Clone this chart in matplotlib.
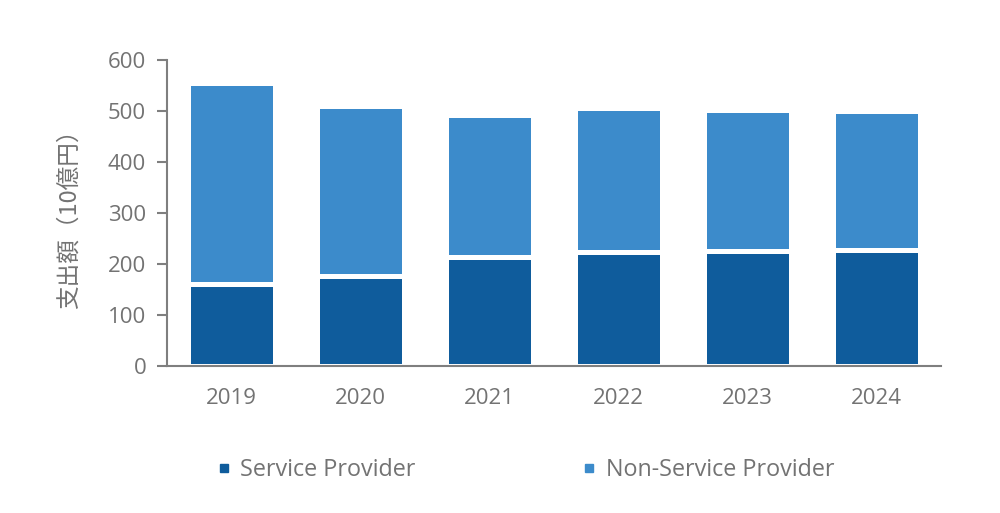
import numpy as np
import matplotlib.pyplot as plt
from matplotlib.lines import Line2D

# ===== データ =====
years = ["2019", "2020", "2021", "2022", "2023", "2024"]
service_provider = [160, 176, 213, 224, 225, 227]
non_service_provider = [395, 334, 279, 282, 277, 273]
y_ticks = [0, 100, 200, 300, 400, 500, 600]

DARK = "#0F5C9C"
LIGHT = "#3C8BCB"
TEXT = "#737373"
AXIS = "#7F7F7F"

plt.rcParams['font.family'] = ['Open Sans', 'Noto Sans CJK JP', 'DejaVu Sans']

fig = plt.figure(figsize=(10, 5.13), dpi=100)
ax = fig.add_axes([0.167, 0.2865, 0.774, 0.5965])

x = np.arange(len(years))
ax.bar(x, service_provider, width=0.67, color=DARK,
       edgecolor="white", linewidth=3.6, label="Service Provider")
ax.bar(x, non_service_provider, width=0.67, bottom=service_provider,
       color=LIGHT, edgecolor="white", linewidth=3.6, label="Non-Service Provider")

ax.set_xlim(-0.5, len(years) - 0.5)
ax.set_ylim(0, 600)
ax.set_yticks(y_ticks)
ax.set_xticks(x)
ax.set_xticklabels(years)

for s in ["top", "right"]:
    ax.spines[s].set_visible(False)
for s in ["left", "bottom"]:
    ax.spines[s].set_color(AXIS)
    ax.spines[s].set_linewidth(1.5)

ax.tick_params(axis="y", length=7, width=1.5, color=AXIS, pad=8,
               labelsize=16, labelcolor=TEXT)
ax.tick_params(axis="x", length=0, pad=16, labelsize=16, labelcolor=TEXT)

ax.set_ylabel("支出額（10億円）", fontsize=17, color=TEXT,
              family=['Noto Sans CJK JP'], labelpad=20)

handles = [
    Line2D([], [], marker="s", linestyle="none", markersize=6,
           color=DARK, label="Service Provider"),
    Line2D([], [], marker="s", linestyle="none", markersize=6,
           color=LIGHT, label="Non-Service Provider"),
]
fig.legend(handles=handles, loc="center", bbox_to_anchor=(0.526, 0.084),
           ncol=2, frameon=False, fontsize=16.8, labelcolor=TEXT,
           handlelength=0.5, handletextpad=0.45, columnspacing=7.2)

plt.savefig("out.png", dpi=100)
